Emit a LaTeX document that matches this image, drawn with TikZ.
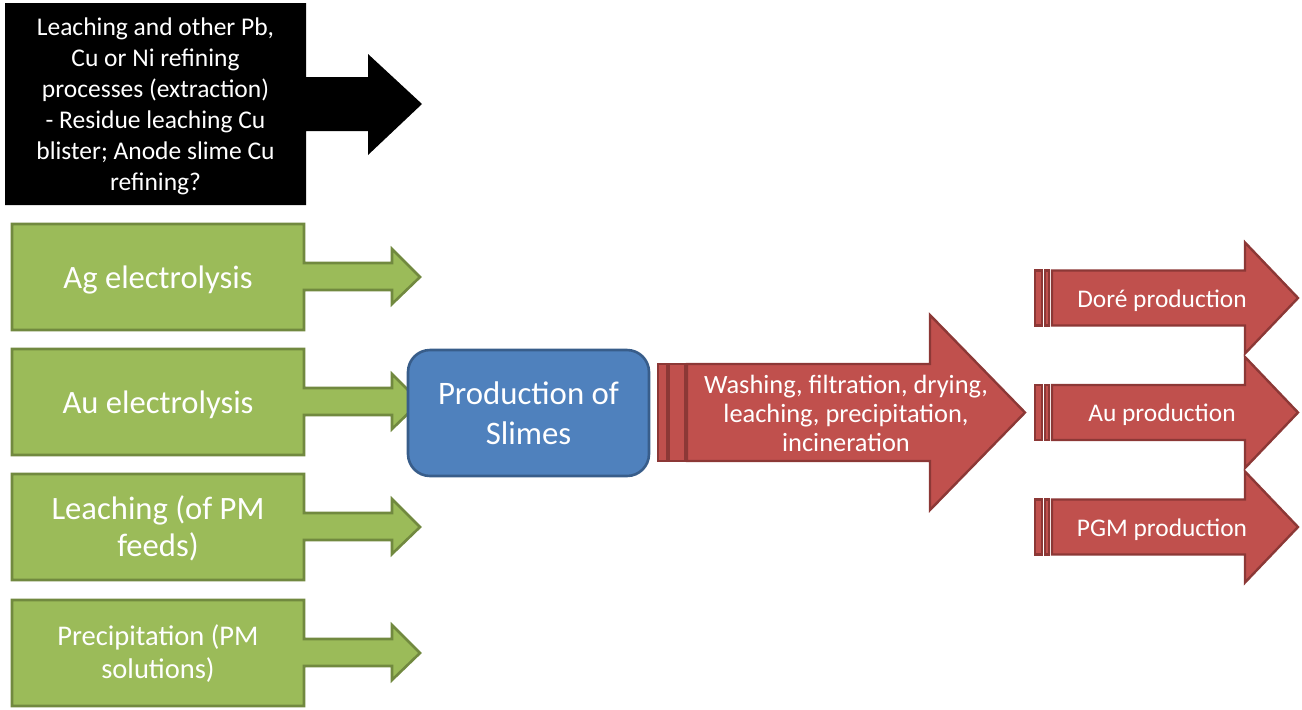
\documentclass[tikz,border=0pt]{standalone}
\usepackage{fontspec}
\setmainfont{Carlito}
\usepackage{xcolor}
\definecolor{pmgreen}{HTML}{9BBB59}
\definecolor{pmgreenline}{HTML}{71893F}
\definecolor{pmblue}{HTML}{4F81BD}
\definecolor{pmblueline}{HTML}{385D8A}
\definecolor{pmred}{HTML}{C0504D}
\definecolor{pmredline}{HTML}{8C3836}
% green feed box with its arrow: #1 name, #2 centre y, #3 text y, #4 text
\newcommand{\feedbox}[4]{
  \draw[feed] (12,#2-53) -- (304,#2-53) -- (304,#2-14) -- (392,#2-14) -- (392,#2-28)
    -- (420,#2) -- (392,#2+27) -- (392,#2+13) -- (304,#2+13) -- (304,#2+53) -- (12,#2+53) -- cycle;
  \node[feedtext] (#1) at (158,#3) {#4};
}
% small striped product arrow: #1 name, #2 centre y, #3 text
\newcommand{\productarrow}[3]{
  \draw[product] (1035,#2-27.5) rectangle (1042,#2+27.5);
  \draw[product] (1045,#2-27.5) rectangle (1049,#2+27.5);
  \draw[product] (1052,#2-27.5) -- (1245,#2-27.5) -- (1245,#2-55.5) -- (1298,#2)
    -- (1245,#2+55.5) -- (1245,#2+27.5) -- (1052,#2+27.5) -- cycle;
  \node[producttext] (#1) at (1162,#2+2.5) {#3};
}

\begin{document}
\begin{tikzpicture}[x=0.5pt, y=-0.5pt,
  every node/.style={text=white, align=center, inner sep=0pt},
  feed/.style={fill=pmgreen, draw=pmgreenline, line width=1.3pt},
  feedtext/.style={font=\fontsize{16.3pt}{18.5pt}\selectfont},
  product/.style={fill=pmred, draw=pmredline, line width=1.2pt},
  producttext/.style={font=\fontsize{12.7pt}{14.5pt}\selectfont}]
\useasboundingbox (0,0) rectangle (1302,709);
% extraction box
\fill[black] (5,3) -- (306,3) -- (306,77) -- (368,77) -- (368,54) -- (422,104)
  -- (368,155) -- (368,131) -- (306,131) -- (306,205) -- (5,205) -- cycle;
\node[font=\fontsize{12.75pt}{15.5pt}\selectfont] (extract) at (155.5,106)
  {Leaching and other Pb,\\Cu or Ni refining\\processes (extraction)\\- Residue leaching Cu\\blister; Anode slime Cu\\refining?};
% feeds
\feedbox{ag}{277}{280}{Ag electrolysis}
\feedbox{au}{402}{405}{Au electrolysis}
\feedbox{leach}{527}{528}{Leaching (of PM\\feeds)}
\feedbox{precip}{653}{653}{}
\node[font=\fontsize{14.25pt}{16.5pt}\selectfont] (preciptext) at (158,654) {Precipitation (PM\\solutions)};
% slimes
\node[fill=pmblue, draw=pmblueline, line width=1.3pt, rounded corners=11pt,
  minimum width=120.5pt, minimum height=63pt, font=\fontsize{16.4pt}{20pt}\selectfont]
  (slimes) at (528.5,413) {Production of\\Slimes};
% treatment arrow
\draw[product] (658,364) rectangle (667,461);
\draw[product] (669,364) rectangle (685,461);
\draw[product] (687,364) -- (930,364) -- (930,315) -- (1025,412.5) -- (930,510)
  -- (930,461) -- (687,461) -- cycle;
\node[font=\fontsize{13.2pt}{14.5pt}\selectfont] (treat) at (846,413)
  {Washing, filtration, drying,\\leaching, precipitation,\\incineration};
% products
\productarrow{dore}{298}{Doré production}
\productarrow{auprod}{412.5}{Au production}
\productarrow{pgm}{527}{PGM production}
\end{tikzpicture}
\end{document}
